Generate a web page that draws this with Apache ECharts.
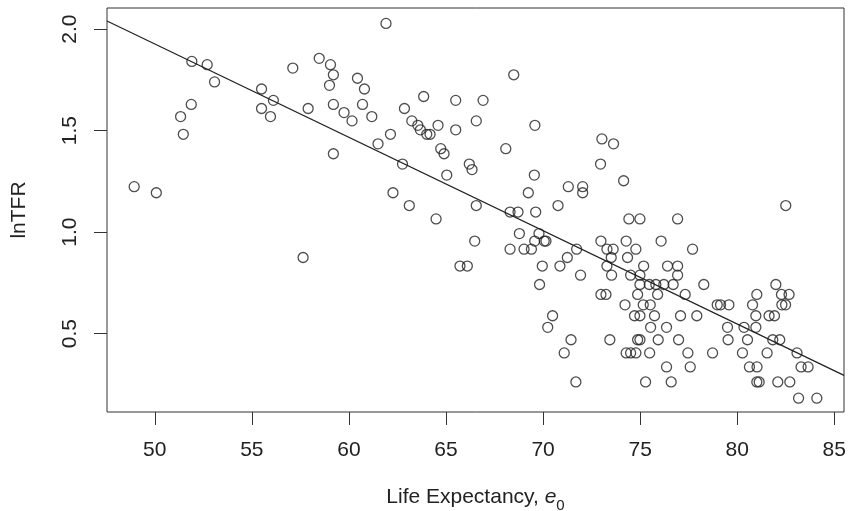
<!DOCTYPE html>
<html>
<head>
<meta charset="utf-8">
<script src="https://cdn.jsdelivr.net/npm/echarts@6/dist/echarts.min.js"></script>
<style>
  html, body { margin: 0; padding: 0; background: #fff; }
  #chart { width: 848px; height: 511px; }
</style>
</head>
<body>
<div id="chart"></div>
<script>
// life expectancy e0 and lnTFR
var lifeExp = [
  51.91, 52.70, 53.08, 57.11, 55.50, 56.11, 55.50, 55.96, 51.88, 51.33, 51.47, 48.94, 50.08,
  61.91, 58.47, 59.05, 59.20, 59.00, 60.44, 60.80, 57.90, 59.20, 59.75, 60.16, 60.70, 61.18,
  59.20, 61.50, 62.14, 62.76, 62.27, 62.86, 63.85, 63.24, 63.55, 63.68, 64.01, 64.18, 64.59,
  65.50, 65.50, 64.73, 64.90, 66.91, 66.56, 66.20, 66.34, 65.04, 68.49, 68.08, 69.58, 69.55,
  69.24, 71.30, 72.04, 72.04, 73.03, 73.63, 72.96, 74.15,
  57.64, 63.11, 64.49, 66.56, 66.48, 65.72, 66.10, 68.30, 68.71, 69.62, 70.77, 68.78, 69.79,
  69.57, 70.06, 70.15, 68.30, 69.02, 69.40, 69.96, 70.87, 71.25, 71.73, 69.82, 70.49, 70.24,
  71.44, 71.09, 71.69,
  82.50, 74.42, 74.99, 76.93, 72.98, 74.28, 76.08, 73.29, 73.61, 74.78, 77.70, 73.51, 74.35,
  73.29, 73.53, 71.93, 74.51, 74.99, 75.18, 76.41, 76.93, 76.93, 74.99, 75.47, 75.81, 76.22,
  76.70, 78.28, 72.98, 73.24, 74.87, 75.90, 77.32, 74.22, 75.16, 75.52, 74.71, 74.99, 75.74,
  77.08, 77.92, 75.54, 76.36, 74.87, 74.99, 73.44, 75.93, 76.98, 74.28, 74.51, 74.78, 75.49,
  77.46, 76.36, 77.58, 78.73, 75.28, 76.60, 78.97, 79.14, 79.57, 79.50, 79.53, 80.27, 80.35,
  80.53, 80.96, 80.96, 80.79, 81.01, 80.63, 81.02, 81.01, 81.13, 81.54, 81.64, 81.92, 81.83,
  82.19, 81.99, 82.28, 82.67, 82.30, 82.49, 82.09, 82.71, 83.08, 83.29, 83.65, 83.16, 84.10
];
var lnTFR = [
  1.841, 1.825, 1.740, 1.808, 1.705, 1.649, 1.609, 1.569, 1.629, 1.569, 1.482, 1.224, 1.194,
  2.028, 1.856, 1.825, 1.775, 1.723, 1.758, 1.705, 1.609, 1.629, 1.589, 1.548, 1.629, 1.569,
  1.386, 1.435, 1.482, 1.335, 1.194, 1.609, 1.668, 1.548, 1.526, 1.504, 1.482, 1.482, 1.526,
  1.649, 1.504, 1.411, 1.386, 1.649, 1.548, 1.335, 1.308, 1.281, 1.775, 1.411, 1.526, 1.281,
  1.194, 1.224, 1.224, 1.194, 1.459, 1.435, 1.335, 1.253,
  0.875, 1.131, 1.065, 1.131, 0.956, 0.833, 0.833, 1.099, 1.099, 1.099, 1.131, 0.993, 0.993,
  0.956, 0.956, 0.956, 0.916, 0.916, 0.916, 0.833, 0.833, 0.875, 0.916, 0.742, 0.588, 0.531,
  0.470, 0.405, 0.262,
  1.131, 1.065, 1.065, 1.065, 0.956, 0.956, 0.956, 0.916, 0.916, 0.916, 0.916, 0.875, 0.875,
  0.833, 0.788, 0.788, 0.788, 0.788, 0.833, 0.833, 0.833, 0.788, 0.742, 0.742, 0.742, 0.742,
  0.742, 0.742, 0.693, 0.693, 0.693, 0.693, 0.693, 0.642, 0.642, 0.642, 0.588, 0.588, 0.588,
  0.588, 0.588, 0.531, 0.531, 0.470, 0.470, 0.470, 0.470, 0.470, 0.405, 0.405, 0.405, 0.405,
  0.405, 0.336, 0.336, 0.405, 0.262, 0.262, 0.642, 0.642, 0.642, 0.531, 0.470, 0.405, 0.531,
  0.470, 0.531, 0.588, 0.642, 0.693, 0.336, 0.336, 0.262, 0.262, 0.405, 0.588, 0.588, 0.470,
  0.470, 0.742, 0.693, 0.693, 0.642, 0.642, 0.262, 0.262, 0.405, 0.336, 0.336, 0.182, 0.182
];
var xTicks = [50, 55, 60, 65, 70, 75, 80, 85];
var yTicks = [0.5, 1.0, 1.5, 2.0];
// least squares line lnTFR ~ e0
var fitIntercept = 4.225;
var fitSlope = -0.04597;

var xMin = 47.54, xMax = 85.5;
var yMin = 0.114, yMax = 2.104;

var points = lifeExp.map(function (v, i) { return [v, lnTFR[i]]; });
var fitLine = [xMin, xMax].map(function (x) { return [x, fitIntercept + fitSlope * x]; });

var font = 'Liberation Sans, Arial, sans-serif';
var ink = '#222';

var myChart = echarts.init(document.getElementById('chart'));
var option = {
    animation: false,
    backgroundColor: '#fff',
    grid: {
        left: 107,
        right: 4,
        top: 8,
        bottom: 99,
        outerBoundsMode: 'none',
        containLabel: false,
        show: true,
        borderColor: '#333',
        borderWidth: 1
    },
    xAxis: {
        type: 'value',
        min: xMin,
        max: xMax,
        axisLine: { show: false },
        splitLine: { show: false },
        axisTick: {
            show: true,
            length: 13,
            customValues: xTicks,
            lineStyle: { color: '#333', width: 1 }
        },
        axisLabel: {
            customValues: xTicks,
            margin: 28,
            color: ink,
            fontFamily: font,
            fontSize: 21
        },
        name: '{n|Life Expectancy, }{e|e}{s|0}',
        nameLocation: 'middle',
        nameGap: 75,
        nameTextStyle: {
            rich: {
                n: { fontFamily: font, fontSize: 21, color: ink, lineHeight: 21, verticalAlign: 'top' },
                e: { fontFamily: font, fontSize: 21, color: ink, fontStyle: 'italic', lineHeight: 21, verticalAlign: 'top' },
                s: { fontFamily: font, fontSize: 15, color: ink, lineHeight: 26, verticalAlign: 'bottom' }
            }
        }
    },
    yAxis: {
        type: 'value',
        min: yMin,
        max: yMax,
        axisLine: { show: false },
        splitLine: { show: false },
        axisTick: {
            show: true,
            length: 13,
            customValues: yTicks,
            lineStyle: { color: '#333', width: 1 }
        },
        axisLabel: {
            customValues: yTicks,
            rotate: 90,
            margin: 26,
            color: ink,
            fontFamily: font,
            fontSize: 21,
            formatter: function (v) { return v.toFixed(1); }
        },
        name: 'lnTFR',
        nameLocation: 'middle',
        nameRotate: 90,
        nameGap: 77,
        nameTextStyle: { fontFamily: font, fontSize: 21, color: ink }
    },
    series: [{
        type: 'scatter',
        data: points,
        symbol: 'circle',
        symbolSize: 10,
        itemStyle: {
            color: 'rgba(0,0,0,0)',
            borderColor: ink,
            borderWidth: 1.3
        },
        z: 3
    }, {
        type: 'line',
        data: fitLine,
        showSymbol: false,
        lineStyle: { color: ink, width: 1.2 },
        z: 2
    }]
};
myChart.setOption(option);
</script>
</body>
</html>
